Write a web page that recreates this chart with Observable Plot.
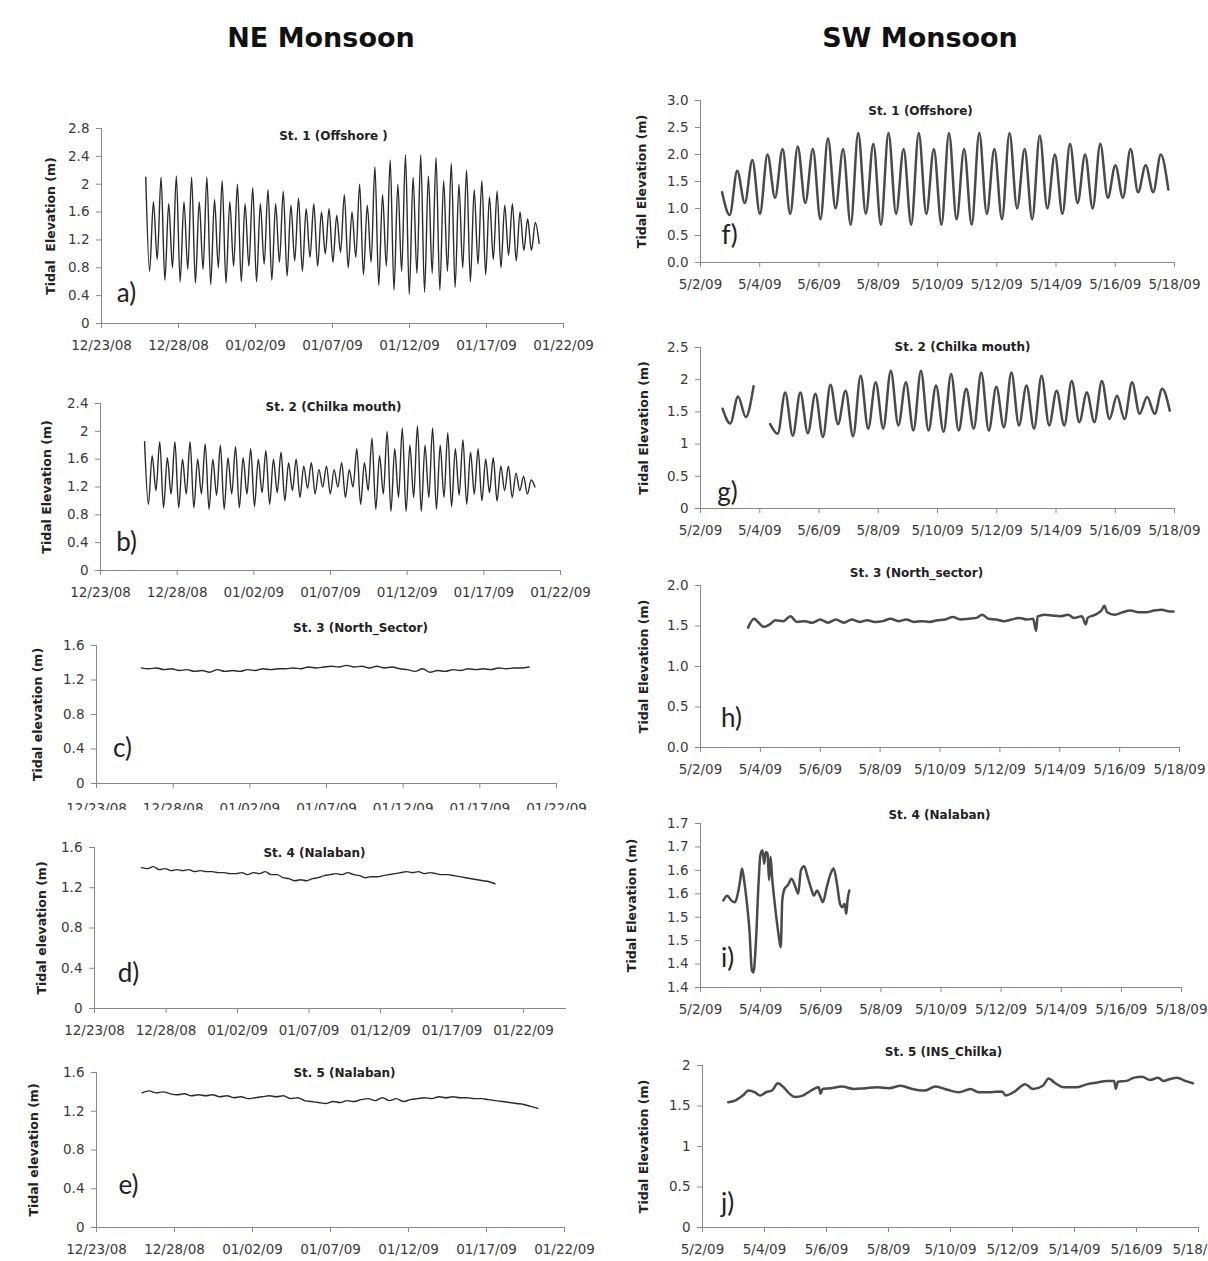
<!DOCTYPE html>
<html><head><meta charset="utf-8">
<script src="https://cdn.jsdelivr.net/npm/d3@7"></script>
<script src="https://cdn.jsdelivr.net/npm/@observablehq/plot@0.6"></script>
<style>
body{margin:0;background:#fff;}
#root{position:relative;width:1208px;height:1261px;overflow:hidden;background:#fff;font-family:"DejaVu Sans",Verdana,sans-serif;}
.hdr{position:absolute;font-weight:bold;font-size:27px;transform:translate(-50%,-50%);white-space:nowrap;color:#111;}
</style></head><body><div id="root"></div>
<script>
// ---------------- DATA ----------------
const neTicks = ["2008-12-23","2008-12-28","2009-01-02","2009-01-07","2009-01-12","2009-01-17","2009-01-22"];
const neTickLabels = ["12/23/08","12/28/08","01/02/09","01/07/09","01/12/09","01/17/09","01/22/09"];
const swTicks = ["2009-05-02","2009-05-04","2009-05-06","2009-05-08","2009-05-10","2009-05-12","2009-05-14","2009-05-16","2009-05-18"];
const swTickLabels = ["5/2/09","5/4/09","5/6/09","5/8/09","5/10/09","5/12/09","5/14/09","5/16/09","5/18/09"];

const titles = ["St. 1 (Offshore )","St. 2 (Chilka mouth)","St. 3 (North_Sector)","St. 4 (Nalaban)","St. 5 (Nalaban)",
                "St. 1 (Offshore)","St. 2 (Chilka mouth)","St. 3 (North_sector)","St. 4 (Nalaban)","St. 5 (INS_Chilka)"];
const letters = ["a)","b)","c)","d)","e)","f)","g)","h)","i)","j)"];
const yLabels = ["Tidal  Elevation (m)","Tidal Elevation (m)","Tidal elevation (m)","Tidal elevation (m)","Tidal elevation (m)",
                 "Tidal Elevation (m)","Tidal Elevation (m)","Tidal Elevation (m)","Tidal Elevation (m)","Tidal Elevation (m)"];

// y ticks and their labels
const yTicksA = [0,0.4,0.8,1.2,1.6,2,2.4,2.8];
const yTicksB = [0,0.4,0.8,1.2,1.6,2,2.4];
const yTicksCDE = [0,0.4,0.8,1.2,1.6];
const yTicksF = [0,0.5,1,1.5,2,2.5,3];
const yTickLabelsF = ["0.0","0.5","1.0","1.5","2.0","2.5","3.0"];
const yTicksG = [0,0.5,1,1.5,2,2.5];
const yTicksH = [0,0.5,1,1.5,2];
const yTickLabelsH = ["0.0","0.5","1.0","1.5","2.0"];
const yTicksI = [1.375,1.425,1.475,1.525,1.575,1.625,1.675,1.725];
const yTickLabelsI = ["1.4","1.4","1.5","1.5","1.6","1.6","1.7","1.7"];
const yTicksJ = [0,0.5,1,1.5,2];

// St.1 NE (a): daily higher-high, lower-low, lower-high, higher-low, 12/26 .. 01/20
const aPeriod = ["2008-12-25T21:00","2009-01-20T10:00"];
const aHH = [2.1,2.1,2.12,2.1,2.1,2.05,2.0,1.95,1.92,1.9,1.8,1.72,1.65,1.85,2.0,2.25,2.35,2.42,2.42,2.38,2.3,2.2,2.05,1.9,1.72,1.5];
const aLL = [0.75,0.62,0.6,0.58,0.56,0.58,0.6,0.6,0.62,0.68,0.75,0.82,0.88,0.8,0.7,0.55,0.48,0.42,0.45,0.48,0.52,0.6,0.7,0.8,0.9,1.05];
const aLH = [1.75,1.72,1.75,1.75,1.78,1.75,1.72,1.72,1.72,1.7,1.65,1.6,1.55,1.6,1.7,1.85,2.0,2.1,2.12,2.05,2.0,1.92,1.82,1.7,1.6,1.45];
const aHL = [0.92,0.8,0.78,0.78,0.8,0.82,0.82,0.85,0.88,0.9,0.95,1.0,1.02,0.95,0.88,0.82,0.75,0.72,0.72,0.75,0.8,0.85,0.92,0.98,1.05,1.15];

// St.2 NE (b)
const bPeriod = ["2008-12-25T21:00","2009-01-20T08:00"];
const bHH = [1.85,1.85,1.85,1.85,1.82,1.8,1.78,1.75,1.72,1.7,1.6,1.55,1.5,1.55,1.75,1.9,2.0,2.05,2.08,2.05,1.98,1.88,1.75,1.62,1.5,1.35];
const bLL = [0.95,0.9,0.9,0.9,0.88,0.88,0.9,0.92,0.95,1.0,1.05,1.1,1.1,1.05,0.95,0.88,0.85,0.85,0.85,0.88,0.92,0.95,1.0,1.0,1.05,1.1];
const bLH = [1.65,1.62,1.6,1.6,1.6,1.62,1.62,1.6,1.6,1.55,1.5,1.45,1.45,1.45,1.55,1.65,1.75,1.8,1.8,1.8,1.75,1.7,1.6,1.5,1.4,1.3];
const bHL = [1.15,1.1,1.1,1.1,1.08,1.1,1.1,1.12,1.12,1.15,1.18,1.2,1.2,1.2,1.15,1.1,1.05,1.05,1.05,1.05,1.08,1.1,1.12,1.15,1.15,1.2];

// St.3, St.4, St.5 NE (c, d, e): half-daily levels
const cPeriod = ["2008-12-25T22:00","2009-01-20T05:00"];
const cVals = [1.34,1.33,1.34,1.32,1.33,1.31,1.32,1.30,1.31,1.29,1.32,1.30,1.31,1.30,1.32,1.31,1.33,1.32,1.33,1.33,1.34,1.33,1.35,1.34,1.35,1.36,1.35,1.37,1.35,1.36,1.34,1.36,1.34,1.35,1.33,1.32,1.30,1.33,1.29,1.31,1.30,1.32,1.31,1.33,1.32,1.33,1.32,1.34,1.33,1.34,1.34,1.35];
const dPeriod = ["2008-12-26T07:00","2009-01-20T00:00"];
const dVals = [1.40,1.39,1.41,1.38,1.39,1.37,1.38,1.37,1.38,1.36,1.37,1.36,1.36,1.35,1.35,1.34,1.34,1.35,1.33,1.35,1.34,1.36,1.33,1.33,1.30,1.29,1.27,1.28,1.27,1.29,1.30,1.32,1.33,1.34,1.33,1.35,1.33,1.32,1.30,1.31,1.31,1.32,1.33,1.34,1.35,1.36,1.35,1.36,1.34,1.35,1.34,1.33,1.33,1.32,1.31,1.30,1.29,1.28,1.27,1.26,1.24];
const ePeriod = ["2008-12-25T22:00","2009-01-20T07:00"];
const eVals = [1.39,1.41,1.39,1.40,1.38,1.37,1.38,1.36,1.37,1.36,1.37,1.35,1.36,1.34,1.35,1.33,1.34,1.35,1.36,1.35,1.36,1.33,1.34,1.31,1.30,1.29,1.28,1.30,1.29,1.31,1.30,1.32,1.33,1.31,1.34,1.31,1.33,1.30,1.32,1.33,1.34,1.33,1.35,1.34,1.35,1.34,1.34,1.33,1.33,1.32,1.31,1.30,1.29,1.28,1.27,1.25,1.23];

// St.1 SW (f): successive high/low waters
const fPeriod = ["2009-05-02T17:30","2009-05-17T19:00"];
const fVals = [1.3,0.88,1.7,1.1,1.9,0.9,2.0,1.2,2.1,0.9,2.15,1.1,2.1,0.8,2.3,1.0,2.1,0.7,2.4,0.9,2.2,0.7,2.4,0.9,2.1,0.7,2.4,0.9,2.1,0.7,2.4,0.8,2.1,0.7,2.4,0.9,2.1,0.8,2.4,1.0,2.1,0.8,2.35,1.0,2.0,0.9,2.2,1.1,2.0,1.0,2.2,1.2,1.8,1.2,2.1,1.3,1.8,1.3,2.0,1.35];

// St.2 SW (g): two records
const g1Period = ["2009-05-02T17:50","2009-05-03T19:00"];
const g1Vals = [1.55,1.32,1.74,1.42,1.9];
const g2Period = ["2009-05-04T08:25","2009-05-17T20:10"];
const g2Vals = [1.31,1.16,1.8,1.13,1.8,1.17,1.78,1.11,1.92,1.31,1.83,1.12,2.06,1.24,1.96,1.24,2.14,1.29,1.96,1.21,2.14,1.21,1.91,1.19,2.09,1.21,1.86,1.24,2.11,1.21,1.89,1.26,2.11,1.29,1.91,1.24,2.06,1.29,1.83,1.29,1.98,1.34,1.8,1.34,1.98,1.39,1.75,1.39,1.96,1.47,1.73,1.47,1.86,1.52];

// St.3 SW (h): day offsets from 5/2/09 and levels
const hDays = [1.59,1.79,1.92,2.11,2.31,2.50,2.77,3.0,3.22,3.48,3.74,4.0,4.26,4.52,4.79,5.05,5.31,5.57,5.83,6.09,6.35,6.61,6.87,7.13,7.39,7.65,7.91,8.17,8.43,8.70,8.96,9.22,9.41,9.61,9.87,10.13,10.39,10.65,10.91,11.11,11.21,11.26,11.50,11.76,12.02,12.28,12.47,12.74,12.87,12.93,13.19,13.39,13.49,13.58,13.84,14.10,14.36,14.63,14.89,15.15,15.41,15.67,15.80];
const hVals = [1.48,1.59,1.55,1.49,1.52,1.57,1.56,1.62,1.55,1.56,1.54,1.58,1.54,1.58,1.54,1.58,1.55,1.57,1.55,1.56,1.59,1.56,1.58,1.55,1.56,1.55,1.57,1.58,1.61,1.58,1.59,1.60,1.64,1.59,1.58,1.56,1.58,1.60,1.58,1.59,1.44,1.62,1.64,1.63,1.62,1.64,1.60,1.62,1.52,1.60,1.64,1.69,1.75,1.67,1.64,1.67,1.69,1.67,1.67,1.69,1.70,1.68,1.68];

// St.4 SW (i)
const iDays = [0.76,0.89,1.02,1.15,1.24,1.32,1.38,1.45,1.54,1.63,1.71,1.76,1.84,1.93,1.99,2.06,2.12,2.17,2.23,2.28,2.33,2.38,2.47,2.58,2.67,2.72,2.80,2.90,3.03,3.16,3.25,3.34,3.45,3.55,3.68,3.77,3.88,3.97,4.07,4.20,4.33,4.43,4.54,4.64,4.72,4.79,4.85,4.89,4.95];
const iVals = [1.561,1.571,1.561,1.557,1.575,1.604,1.629,1.604,1.557,1.496,1.411,1.407,1.468,1.596,1.657,1.668,1.639,1.664,1.661,1.604,1.654,1.611,1.554,1.496,1.461,1.561,1.586,1.593,1.607,1.589,1.575,1.625,1.634,1.614,1.586,1.571,1.582,1.571,1.557,1.589,1.618,1.629,1.596,1.554,1.546,1.554,1.532,1.561,1.582];

// St.5 SW (j)
const jDays = [0.83,1.05,1.30,1.49,1.68,1.86,2.05,2.24,2.43,2.62,2.81,3.0,3.25,3.50,3.75,3.81,3.87,4.13,4.50,4.88,5.26,5.64,6.01,6.39,6.77,7.15,7.52,7.90,8.27,8.65,8.90,9.28,9.66,9.78,10.04,10.41,10.66,10.98,11.17,11.35,11.67,12.05,12.42,12.74,13.05,13.28,13.33,13.40,13.68,13.93,14.18,14.44,14.69,14.87,15.06,15.31,15.57,15.82];
const jVals = [1.546,1.567,1.629,1.691,1.67,1.629,1.67,1.691,1.78,1.73,1.65,1.61,1.63,1.69,1.73,1.65,1.71,1.72,1.74,1.71,1.72,1.73,1.72,1.75,1.71,1.69,1.74,1.70,1.67,1.71,1.67,1.67,1.68,1.63,1.67,1.77,1.71,1.75,1.84,1.79,1.73,1.73,1.77,1.79,1.81,1.81,1.71,1.80,1.81,1.85,1.86,1.82,1.85,1.81,1.83,1.85,1.81,1.78];

// ---------------- HELPERS ----------------
const D = s => new Date(s.length <= 10 ? s + "T00:00Z" : s + "Z");
const MAY2 = Date.UTC(2009, 4, 2);
function even(period, vals, seg = 0) {
  const t0 = +D(period[0]), t1 = +D(period[1]), n = vals.length;
  return vals.map((v, i) => ({t: new Date(t0 + (t1 - t0) * i / (n - 1)), v, seg}));
}
function daily(period, HH, LL, LH, HL) {
  const vals = [];
  HH.forEach((_, i) => vals.push(HH[i], LL[i], LH[i], HL[i]));
  return even(period, vals);
}
function byDay(days, vals) { return days.map((d, i) => ({t: new Date(MAY2 + d * 864e5), v: vals[i], seg: 0})); }
const general = v => String(+v.toFixed(2));

const series = [
  daily(aPeriod, aHH, aLL, aLH, aHL),
  daily(bPeriod, bHH, bLL, bLH, bHL),
  even(cPeriod, cVals), even(dPeriod, dVals), even(ePeriod, eVals),
  even(fPeriod, fVals),
  even(g1Period, g1Vals, 0).concat(even(g2Period, g2Vals, 1)),
  byDay(hDays, hVals), byDay(iDays, iVals), byDay(jDays, jVals)
];

// ---------------- LAYOUT ----------------
const NE = [D("2008-12-23"), D("2009-01-22")];
const SW = [D("2009-05-02"), D("2009-05-18")];
const layout = [
  {x0:101,x1:563,yTop:128,yBot:323,xd:NE,yd:[0,2.8],yt:yTicksA,title:[333,136],letter:[126,293],ylab:50},
  {x0:100,x1:560,yTop:403,yBot:570,xd:NE,yd:[0,2.4],yt:yTicksB,title:[333,407],letter:[126,542],ylab:46},
  {x0:96,x1:556,yTop:645,yBot:783,xd:NE,yd:[0,1.6],yt:yTicksCDE,title:[360,628],letter:[122,748],ylab:37,tp:15},
  {x0:94,x1:566,yTop:847,yBot:1008,xd:[D("2008-12-23"),D("2009-01-25")],yd:[0,1.6],yt:yTicksCDE,title:[314,853],letter:[128,973],ylab:41,mT:37,bg:"#fff"},
  {x0:96,x1:564,yTop:1072,yBot:1227,xd:NE,yd:[0,1.6],yt:yTicksCDE,title:[344,1073],letter:[128,1185],ylab:33},
  {x0:700,x1:1174,yTop:100,yBot:262,xd:SW,yd:[0,3],yt:yTicksF,yl:yTickLabelsF,title:[920,111],letter:[729,235],ylab:641},
  {x0:700,x1:1174,yTop:347,yBot:508,xd:SW,yd:[0,2.5],yt:yTicksG,title:[962,347],letter:[727,492],ylab:643},
  {x0:700,x1:1179,yTop:585,yBot:747,xd:SW,yd:[0,2],yt:yTicksH,yl:yTickLabelsH,title:[916,573],letter:[731,718],ylab:643},
  {x0:700,x1:1181,yTop:823,yBot:987,xd:SW,yd:[1.375,1.725],yt:yTicksI,yl:yTickLabelsI,title:[939,815],letter:[727,958],ylab:631},
  {x0:702,x1:1198,yTop:1065,yBot:1227,xd:SW,yd:[0,2],yt:yTicksJ,title:[943,1052],letter:[727,1203],ylab:643}
];

const root = document.getElementById("root");
[["NE Monsoon",321,37],["SW Monsoon",920,37]].forEach(([t,x,y]) => {
  const el = document.createElement("div"); el.className = "hdr"; el.textContent = t;
  el.style.left = x + "px"; el.style.top = y + "px"; root.appendChild(el);
});

layout.forEach((L, k) => {
  const right = k >= 5;
  const mL = 75, mR = 30, mT = L.mT ?? 30, mB = 40;
  const W = L.x1 - L.x0, H = L.yBot - L.yTop;
  const xt = (right ? swTicks : neTicks).map(D);
  const xlabels = new Map(xt.map((d, i) => [+d, (right ? swTickLabels : neTickLabels)[i]]));
  const ylabels = new Map(L.yt.map((v, i) => [v, L.yl ? L.yl[i] : general(v)]));
  const cx = (L.x0 + L.x1) / 2;
  const svg = Plot.plot({
    width: mL + W + mR, height: mT + H + mB,
    marginLeft: mL, marginRight: mR, marginTop: mT, marginBottom: mB,
    style: {background: L.bg || "transparent", fontFamily: "'DejaVu Sans', Verdana, sans-serif", fontSize: "13.5px", overflow: "visible"},
    x: {type: "utc", domain: L.xd},
    y: {domain: L.yd},
    marks: [
      Plot.axisX({ticks: xt, tickFormat: d => xlabels.get(+d), tickSize: 5, tickPadding: L.tp ?? 12, label: null, stroke: "#888", fill: "#3a3a3a"}),
      Plot.axisY({ticks: L.yt, tickFormat: v => ylabels.get(v), tickSize: 5, tickPadding: 7, label: null, stroke: "#888", fill: "#3a3a3a"}),
      Plot.ruleX([L.xd[0]], {stroke: "#888"}),
      Plot.ruleY([L.yd[0]], {stroke: "#888"}),
      Plot.line(series[k], {x: "t", y: "v", z: "seg", curve: "monotone-x",
        stroke: right ? "#4a4a4a" : "#2a2a2a", strokeWidth: right ? 2.5 : 1.4, strokeLinejoin: "round"}),
      Plot.text([titles[k]], {text: d => d, frameAnchor: "top", lineAnchor: "middle", textAnchor: "middle",
        dx: L.title[0] - cx, dy: L.title[1] - L.yTop, fontWeight: "bold", fontSize: 12, fill: "#222"}),
      Plot.text([letters[k]], {text: d => d, frameAnchor: "bottom-left", lineAnchor: "middle", textAnchor: "middle",
        dx: L.letter[0] - L.x0, dy: L.letter[1] - L.yBot, fontSize: 26, fontFamily: "Lato, 'Open Sans', sans-serif", fill: "#222"}),
      Plot.text([yLabels[k]], {text: d => d, frameAnchor: "left", rotate: -90, lineAnchor: "middle", textAnchor: "middle",
        dx: L.ylab - L.x0, fontWeight: "bold", fontSize: 12.5, fill: "#222"})
    ]
  });
  svg.style.position = "absolute";
  svg.style.left = (L.x0 - mL) + "px";
  svg.style.top = (L.yTop - mT) + "px";
  root.appendChild(svg);
});
</script>
</body></html>
